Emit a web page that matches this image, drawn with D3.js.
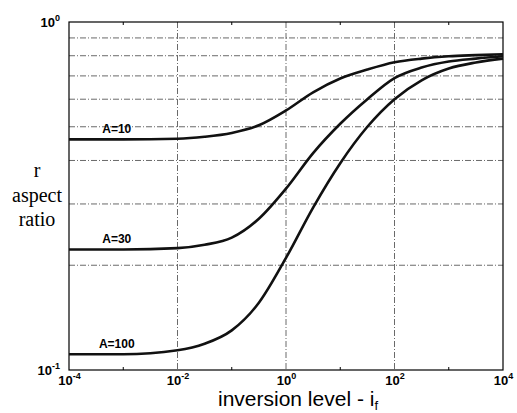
<!DOCTYPE html>
<html>
<head>
<meta charset="utf-8">
<script src="https://cdn.jsdelivr.net/npm/d3@7"></script>
<style>
  body { margin: 0; background: #fff; }
  svg { display: block; }
</style>
</head>
<body>
<div id="chart"></div>
<script>
/* data (inversion level vs aspect ratio) */
const inversionLevels = [1e-4, 1e-3, 1e-2, 0.0316, 0.1, 0.316, 1, 3.16, 10, 31.6, 100, 316, 1000, 3162, 1e4];
const ratioA10  = [0.460, 0.460, 0.462, 0.468, 0.480, 0.505, 0.557, 0.628, 0.688, 0.730, 0.766, 0.785, 0.797, 0.803, 0.808];
const ratioA30  = [0.222, 0.222, 0.224, 0.229, 0.240, 0.272, 0.332, 0.420, 0.510, 0.600, 0.690, 0.740, 0.770, 0.785, 0.797];
const ratioA100 = [0.111, 0.111, 0.114, 0.119, 0.130, 0.156, 0.210, 0.293, 0.393, 0.500, 0.600, 0.680, 0.735, 0.765, 0.785];
const seriesNames = ["A=10", "A=30", "A=100"];
const labelX = 7.6e-4;

const xTicks = [1e-4, 1e-2, 1, 1e2, 1e4];
const xTickExp = ["-4", "-2", "0", "2", "4"];
const xMinor = [1e-3, 1e-1, 10, 1e3];
const yTicks = [0.1, 1];
const yTickExp = ["-1", "0"];
const yGrid = [0.2, 0.3, 0.4, 0.5, 0.6, 0.7, 0.8, 0.9];

const width = 517, height = 413;
const margin = {left: 69, right: 14, top: 22, bottom: 43};
const font = "Liberation Sans, Arial, sans-serif";

const svg = d3.select("#chart").append("svg")
    .attr("width", width)
    .attr("height", height);

const x = d3.scaleLog()
    .domain([1e-4, 1e4])
    .range([margin.left, width - margin.right]);
const y = d3.scaleLog()
    .domain([0.1, 1])
    .range([height - margin.bottom, margin.top]);

/* grid lines, dash-dot like the original */
const grid = svg.append("g")
    .attr("stroke", "#444")
    .attr("stroke-width", 0.8)
    .attr("stroke-dasharray", "6,2,1,2");
grid.selectAll("line.gx").data([1e-2, 1, 1e2]).enter()
    .append("line")
    .attr("class", "gx")
    .attr("x1", d => x(d)).attr("x2", d => x(d))
    .attr("y1", y(1)).attr("y2", y(0.1));
grid.selectAll("line.gy").data(yGrid).enter()
    .append("line")
    .attr("class", "gy")
    .attr("x1", x(1e-4)).attr("x2", x(1e4))
    .attr("y1", d => y(d)).attr("y2", d => y(d));

/* minor ticks on odd decades */
const minor = svg.append("g").attr("stroke", "#000").attr("stroke-width", 1);
minor.selectAll("line.mb").data(xMinor).enter()
    .append("line")
    .attr("x1", d => x(d)).attr("x2", d => x(d))
    .attr("y1", y(0.1)).attr("y2", y(0.1) - 3);
minor.selectAll("line.mt").data(xMinor).enter()
    .append("line")
    .attr("x1", d => x(d)).attr("x2", d => x(d))
    .attr("y1", y(1)).attr("y2", y(1) + 3);

/* frame */
svg.append("rect")
    .attr("x", x(1e-4))
    .attr("y", y(1))
    .attr("width", x(1e4) - x(1e-4))
    .attr("height", y(0.1) - y(1))
    .attr("fill", "none")
    .attr("stroke", "#000")
    .attr("stroke-width", 1.2);

/* axes: ticks drawn by d3, labels rebuilt as 10^n */
function powerLabel(sel, exps, vals) {
    sel.selectAll(".tick text").each(function(d) {
        const t = d3.select(this).text(null)
            .attr("font-family", font)
            .attr("font-weight", "bold")
            .attr("font-size", 13)
            .attr("fill", "#000");
        t.append("tspan").text("10");
        t.append("tspan")
            .attr("dy", -6)
            .attr("font-size", 9)
            .text(exps[vals.indexOf(d)]);
    });
}

const xAxis = d3.axisBottom(x)
    .tickValues(xTicks)
    .tickSize(0)
    .tickPadding(6)
    .tickFormat(() => "");
const xAxisG = svg.append("g")
    .attr("transform", "translate(0," + y(0.1) + ")")
    .call(xAxis);
xAxisG.select(".domain").remove();
powerLabel(xAxisG, xTickExp, xTicks);

const yAxis = d3.axisLeft(y)
    .tickValues(yTicks)
    .tickSize(0)
    .tickPadding(9)
    .tickFormat(() => "");
const yAxisG = svg.append("g")
    .attr("transform", "translate(" + x(1e-4) + ",0)")
    .call(yAxis);
yAxisG.select(".domain").remove();
powerLabel(yAxisG, yTickExp, yTicks);

/* curves */
const series = [ratioA10, ratioA30, ratioA100].map((vals, i) => ({
    name: seriesNames[i],
    points: vals.map((r, j) => ({i: inversionLevels[j], r: r}))
}));

const line = d3.line()
    .x(d => x(d.i))
    .y(d => y(d.r))
    .curve(d3.curveMonotoneX);

svg.append("g").selectAll("path").data(series).enter()
    .append("path")
    .attr("d", d => line(d.points))
    .attr("fill", "none")
    .attr("stroke", "#111")
    .attr("stroke-width", 2.6)
    .attr("stroke-linejoin", "round");

svg.append("g").selectAll("text").data(series).enter()
    .append("text")
    .attr("x", x(labelX))
    .attr("y", d => y(d.points[0].r) - 6)
    .attr("text-anchor", "middle")
    .attr("font-family", font)
    .attr("font-weight", "bold")
    .attr("font-size", 12)
    .text(d => d.name);

/* axis titles */
const xTitle = svg.append("text")
    .attr("x", 298)
    .attr("y", 406)
    .attr("text-anchor", "middle")
    .attr("font-family", font)
    .attr("font-size", 21)
    .text("inversion level - i");
xTitle.append("tspan")
    .attr("dy", 4)
    .attr("font-size", 13)
    .text("f");

const yTitle = svg.append("text")
    .attr("text-anchor", "middle")
    .attr("font-family", "Liberation Serif, Times New Roman, serif")
    .attr("font-size", 20);
["r", "aspect", "ratio"].forEach((w, k) => {
    yTitle.append("tspan")
        .attr("x", 37)
        .attr("y", 177 + k * 24.5)
        .text(w);
});
</script>
</body>
</html>
